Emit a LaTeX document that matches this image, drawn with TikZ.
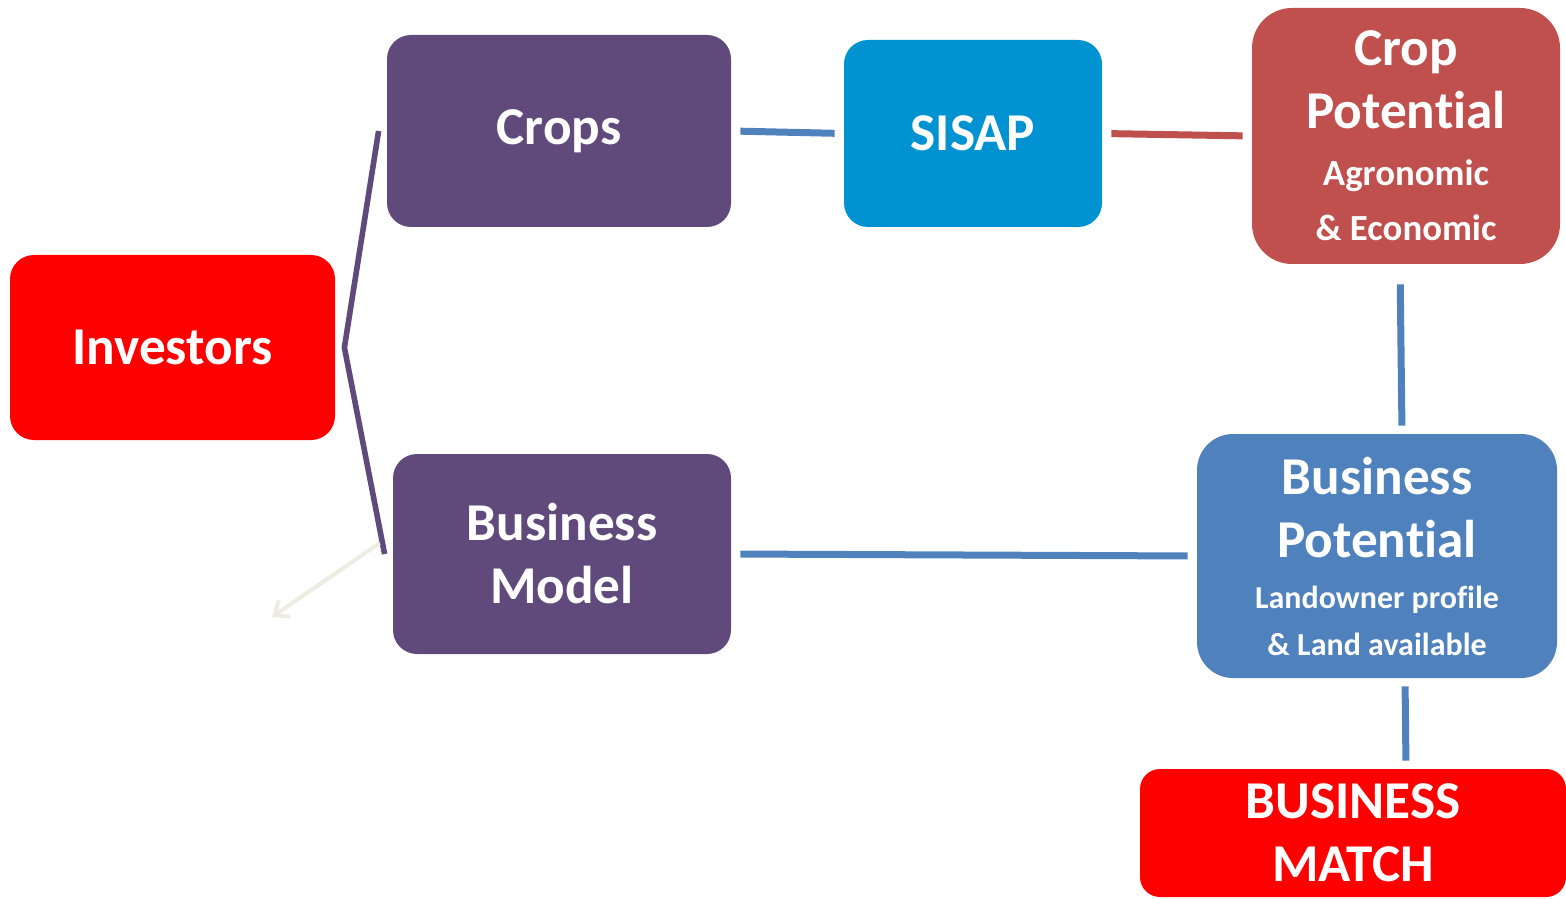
\documentclass[tikz,border=0pt]{standalone}
\usepackage{fontspec}
\setmainfont[Ligatures={NoCommon}]{Carlito}
\usetikzlibrary{arrows.meta}

\definecolor{investred}{HTML}{FF0000}
\definecolor{cropviolet}{HTML}{604A7B}
\definecolor{sisapblue}{HTML}{0092D1}
\definecolor{potentialred}{HTML}{C0504D}
\definecolor{potentialblue}{HTML}{4F81BD}
\definecolor{faintarrow}{HTML}{EEECE1}

\tikzset{
  box/.style={rounded corners=12pt, text=white, align=center, inner sep=0pt,
    font=\bfseries\fontsize{26.6}{31.5}\selectfont},
  link/.style={line width=3.5pt, draw=potentialblue}
}
\newcommand{\smalltxt}[1]{{\fontsize{18.4}{20}\selectfont #1}}
\newcommand{\tinytxt}[1]{{\fontsize{16}{18}\selectfont #1}}

\begin{document}
\begin{tikzpicture}[x=0.5pt,y=-0.5pt]
\useasboundingbox (0,0) rectangle (1566,898);

% boxes
\node[box, fill=investred, minimum width=162.5pt, minimum height=92.5pt] (investors) at (172.5,347.5) {Investors};
\node[box, fill=cropviolet, minimum width=172pt, minimum height=96pt] (crops) at (559,131) {Crops};
\node[box, fill=cropviolet, minimum width=169pt, minimum height=100pt] (busmodel) at (562,554) {Business\\Model};
\node[box, fill=sisapblue, minimum width=129pt, minimum height=93.5pt] (sisap) at (973,133.5) {SISAP};
\node[box, fill=potentialred, rounded corners=20pt, minimum width=154pt, minimum height=128pt] (croppot) at (1406,136)
  {Crop\\Potential\\[-3pt]\smalltxt{Agronomic}\\[-4pt]\smalltxt{\& Economic}};
\node[box, fill=potentialblue, rounded corners=18pt, minimum width=180pt, minimum height=122pt] (buspot) at (1377,556)
  {Business\\Potential\\[-6pt]\tinytxt{Landowner profile}\\[-8pt]\tinytxt{\& Land available}};
\node[box, fill=investred, rounded corners=10pt, minimum width=213pt, minimum height=64pt] (match) at (1353,833)
  {BUSINESS\\MATCH};

% connectors
\draw[line width=2.8pt, draw=cropviolet] ([xshift=-4pt]crops.west) -- ([xshift=4.5pt]investors.east) -- ([xshift=-4pt]busmodel.west);
\draw[link, shorten <=4.5pt, shorten >=4.5pt] (crops.east) -- (sisap.west);
\draw[link, draw=potentialred, shorten <=4.5pt, shorten >=4.5pt] (sisap.east) -- (croppot.west);
\draw[link, shorten <=10pt, shorten >=4pt] ([xshift=-3pt]croppot.south) -- ([xshift=12.5pt]buspot.north);
\draw[link, shorten <=4.5pt, shorten >=4.5pt] (busmodel.east) -- (buspot.west);
\draw[link, shorten <=4pt, shorten >=4pt] ([xshift=14pt]buspot.south) -- ([xshift=26.5pt]match.north);

\coordinate (loose) at (272,617);
\draw[line width=2pt, draw=faintarrow, -{Straight Barb[length=6pt,width=10pt]}] ([shift={(-6.5pt,5.5pt)}]busmodel.west) -- (loose);
\end{tikzpicture}
\end{document}
